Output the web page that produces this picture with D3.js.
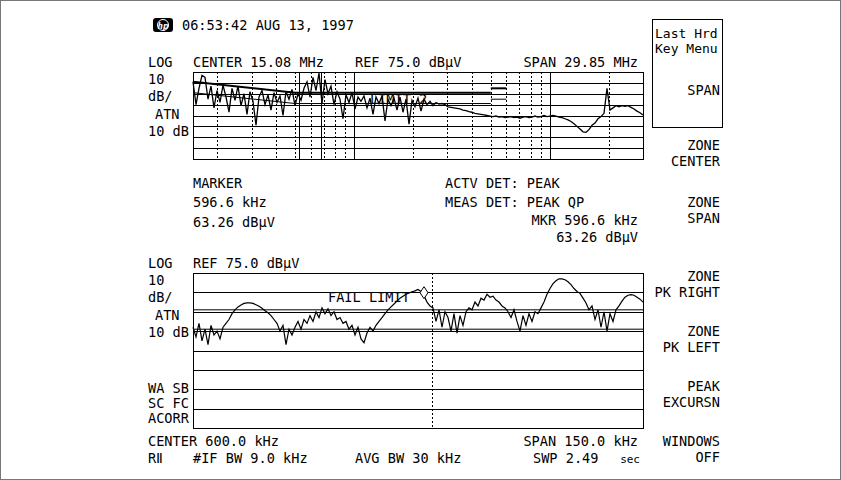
<!DOCTYPE html>
<html>
<head>
<meta charset="utf-8">
<script src="https://cdn.jsdelivr.net/npm/d3@7"></script>
<style>
  html, body { margin: 0; padding: 0; background: #fff; }
  svg text { font-family: "DejaVu Sans Mono", "Liberation Mono", monospace; font-size: 13.6px; fill: #000; }
</style>
</head>
<body>
<svg id="chart" width="841" height="480"></svg>
<script>
// ---- screen data ----
var header = '06:53:42 AUG 13, 1997';

// upper trace: 151 log-spaced sweep points, 150 kHz .. 30 MHz, dBuV
var topStartHz = 150e3;
var topStopHz = 30e6;
var topTrace = [
  66, 45, 60, 72, 70, 50, 62, 42,
  58, 47, 63, 52, 38, 60, 49, 62, 44, 55, 36, 57, 48, 26, 52, 58, 45, 54, 40, 56, 47, 53, 35, 57, 50, 59, 44, 55, 49,
  60, 66, 52, 70, 58, 74, 46, 68, 55, 62,
  45, 57, 50, 32, 54, 47, 56, 41, 52, 48,
  53, 42, 51, 36, 52, 46, 53, 30, 50, 44, 51, 40, 52, 38, 50, 27, 49, 43, 51, 39, 50, 45, 48,
  44, 47, 45.5, 46, 45,
  43, 42.5, 42, 41.5, 41, 40, 39.5, 38.5, 38, 37, 36.5, 36, 35.5, 35, 34.5, 34, 34.5, 33.5, 34, 33,
  33.5, 34, 33, 33.5, 32.5, 33.5, 34, 33, 33.5, 34.5, 33.5, 34, 35, 34, 34.5, 35, 34.5, 33.5, 33, 32,
  31, 29.5, 27.5, 25, 22.5, 20, 19.5, 22, 26, 28, 32, 34, 37, 60, 40, 42, 44, 43, 44, 43.5,
  44, 42.5, 41, 39, 37.5, 35.5
];

// lower trace: zone 525 .. 675 kHz, 1 kHz steps, dBuV
var botStartKHz = 525;
var botTrace = [
  47, 42, 49, 40, 46, 38, 48, 43, 45, 41, 47,
  49, 51, 54, 56, 57.5, 58.5, 59.3, 59.6, 59.6, 59.3, 58.6, 57.8, 56.8, 55.5, 54.5, 53, 51,
  49, 45, 48, 38, 46, 43,
  47, 50, 46, 51, 49, 53, 50, 55, 52, 57, 54, 56.5, 53, 55, 51, 52, 49,
  50, 46, 48, 43, 47, 41, 39, 44, 47, 45,
  48, 50, 52, 54, 56, 57.5, 59, 60.5, 62, 63, 64, 64.7, 65.3,
  65.8, 66.5, 65.5, 63.3,
  60, 58, 57, 50, 56, 47, 55, 52, 45, 54, 44, 53, 48,
  55, 57, 56, 60, 58, 62, 61, 64, 62.5, 63, 61, 60, 58, 57,
  55, 52, 56, 50, 45, 53, 48, 54, 50, 55, 54,
  57, 60, 64, 67, 69.5, 71, 72, 72, 71.5, 70.5, 69, 67, 65.5,
  64.5, 62, 59.5, 56, 58, 51, 56, 47, 55, 45, 54, 50, 56,
  58, 60.5, 62.5, 63.5, 63.8, 63.5, 62.5, 61.5, 60
];

// graticule frequencies of the log display
var dottedHz = [200e3, 300e3, 400e3, 500e3, 600e3, 700e3, 800e3, 900e3,
  2e6, 3e6, 4e6, 5e6, 6e6, 7e6, 8e6, 9e6, 20e6];
var solidHz = [1e6, 10e6];
var zoneHz = [525e3, 675e3];

// limits, [freq Hz, dBuV] breakpoints
var qpLimit = [[150e3, 66], [500e3, 56], [5e6, 56]];
var qpLimitHi = [[5e6, 60], [6e6, 60]];
var avgLimit = [[150e3, 56], [500e3, 46], [5e6, 46]];
var avgLimitHi = [[5e6, 50], [6e6, 50]];
var zoneLimits = [56, 46];

var refLevel = 75;
var dbPerDiv = 10;
var divisions = 8;
var displayLineKHz = 604.7;
var markerKHz = 602;

var softKeys = [
  ['SPAN'], ['ZONE', 'CENTER'], ['ZONE', 'SPAN'], ['ZONE', 'PK RIGHT'],
  ['ZONE', 'PK LEFT'], ['PEAK', 'EXCURSN'], ['WINDOWS', 'OFF']
];
var softKeyY = [90, 145, 202, 276, 331, 386, 441];

// ---- layout ----
var plotL = 193, plotR = 643;
var top1 = 72, bot1 = 159;
var top2 = 273, bot2 = 428;

var svg = d3.select('#chart');

var topX = d3.scaleLog().domain([topStartHz, topStopHz]).range([plotL, plotR]);
var topY = d3.scaleLinear().domain([refLevel - divisions * dbPerDiv, refLevel]).range([bot1, top1]);
var botX = d3.scaleLinear().domain([botStartKHz, botStartKHz + botTrace.length - 1]).range([plotL, plotR]);
var botY = d3.scaleLinear().domain([refLevel - divisions * dbPerDiv, refLevel]).range([bot2, top2]);

/**
 * Plain text helper
 */
function label(x, y, s, anchor) {
  return svg.append('text').attr('x', x).attr('y', y)
      .attr('text-anchor', anchor || 'start').text(s);
}

/**
 * Horizontal graticule for one display
 */
function graticule(yScale, x0, x1) {
  var g = svg.append('g').attr('shape-rendering', 'crispEdges');
  g.selectAll('line').data(d3.range(1, divisions)).enter().append('line')
      .attr('x1', x0).attr('x2', x1)
      .attr('y1', function(d) { return Math.round(yScale(refLevel - d * dbPerDiv)) + 0.5; })
      .attr('y2', function(d) { return Math.round(yScale(refLevel - d * dbPerDiv)) + 0.5; })
      .attr('stroke', '#000').attr('stroke-width', 1);
  return g;
}

// outer frame
svg.append('rect').attr('x', 0.5).attr('y', 0.5).attr('width', 840).attr('height', 479)
    .attr('fill', 'none').attr('stroke', '#777');

// header with hp badge
svg.append('rect').attr('x', 153).attr('y', 18).attr('width', 20).attr('height', 14)
    .attr('rx', 3).attr('fill', '#000');
svg.append('circle').attr('cx', 163).attr('cy', 25).attr('r', 5.5).attr('fill', 'none')
    .attr('stroke', '#fff').attr('stroke-width', 1);
svg.append('text').attr('x', 163).attr('y', 28.5).attr('text-anchor', 'middle')
    .style('font-size', '9px').style('font-style', 'italic').style('font-weight', 'bold')
    .style('fill', '#fff').text('hp');
label(182, 30, header);

// ---- upper display ----
label(148, 67, 'LOG');
label(193, 67, 'CENTER 15.08 MHz');
label(355, 67, 'REF 75.0 dB\u00b5V');
label(638, 67, 'SPAN 29.85 MHz', 'end');
label(148, 84, '10');
label(148, 101, 'dB/');
label(155, 119, 'ATN');
label(148, 136, '10 dB');

graticule(topY, plotL, plotR);

var vg = svg.append('g').attr('shape-rendering', 'crispEdges');
vg.selectAll('line.dot').data(dottedHz).enter().append('line')
    .attr('class', 'dot')
    .attr('x1', function(d) { return Math.round(topX(d)) + 0.5; })
    .attr('x2', function(d) { return Math.round(topX(d)) + 0.5; })
    .attr('y1', top1).attr('y2', bot1)
    .attr('stroke', '#000').attr('stroke-dasharray', '2,2');
vg.selectAll('line.sol').data(solidHz.concat(zoneHz)).enter().append('line')
    .attr('class', 'sol')
    .attr('x1', function(d) { return Math.round(topX(d)) + 0.5; })
    .attr('x2', function(d) { return Math.round(topX(d)) + 0.5; })
    .attr('y1', top1).attr('y2', bot1)
    .attr('stroke', '#000');

var limitLine = d3.line()
    .x(function(d) { return topX(d[0]); })
    .y(function(d) { return topY(d[1]); });
[[qpLimit, 2], [qpLimitHi, 2], [avgLimit, 1], [avgLimitHi, 1]].forEach(function(l) {
  svg.append('path').attr('d', limitLine(l[0])).attr('fill', 'none')
      .attr('stroke', '#000').attr('stroke-width', l[1]);
});
label(370, 104, 'LIMIT 2');

var topLine = d3.line()
    .x(function(d, i) { return topX(topStartHz * Math.pow(topStopHz / topStartHz, i / (topTrace.length - 1))); })
    .y(function(d) { return topY(d); });
svg.append('path').attr('d', topLine(topTrace)).attr('fill', 'none')
    .attr('stroke', '#000').attr('stroke-width', 1.3);

svg.append('rect').attr('x', plotL + 0.5).attr('y', top1 + 0.5)
    .attr('width', plotR - plotL).attr('height', bot1 - top1)
    .attr('fill', 'none').attr('stroke', '#000').attr('shape-rendering', 'crispEdges');

// ---- marker / detector readout ----
label(193, 188, 'MARKER');
label(193, 207, '596.6 kHz');
label(193, 227, '63.26 dB\u00b5V');
label(445, 188, 'ACTV DET: PEAK');
label(445, 207, 'MEAS DET: PEAK QP');
label(638, 225, 'MKR 596.6 kHz', 'end');
label(638, 242, '63.26 dB\u00b5V', 'end');

// ---- lower (zone) display ----
label(148, 268, 'LOG');
label(193, 268, 'REF 75.0 dB\u00b5V');
label(148, 285, '10');
label(148, 302, 'dB/');
label(155, 320, 'ATN');
label(148, 337, '10 dB');
label(148, 393, 'WA SB');
label(148, 408, 'SC FC');
label(148, 423, 'ACORR');

graticule(botY, plotL, plotR);

svg.append('g').selectAll('line').data(zoneLimits).enter().append('line')
    .attr('x1', plotL).attr('x2', plotR)
    .attr('y1', function(d) { return botY(d); })
    .attr('y2', function(d) { return botY(d); })
    .attr('stroke', '#000');

svg.append('line')
    .attr('x1', Math.round(botX(displayLineKHz)) + 0.5)
    .attr('x2', Math.round(botX(displayLineKHz)) + 0.5)
    .attr('y1', top2).attr('y2', bot2)
    .attr('stroke', '#000').attr('stroke-dasharray', '2,2')
    .attr('shape-rendering', 'crispEdges');

label(328, 302, 'FAIL LIMIT');

var botLine = d3.line()
    .x(function(d, i) { return botX(botStartKHz + i); })
    .y(function(d) { return botY(d); });
svg.append('path').attr('d', botLine(botTrace)).attr('fill', 'none')
    .attr('stroke', '#000').attr('stroke-width', 1.2);

var mIdx = Math.round(markerKHz - botStartKHz);
var mx = botX(markerKHz), my = botY(botTrace[mIdx]) - 3;
svg.append('path')
    .attr('d', 'M' + mx + ',' + (my - 6) + 'L' + (mx + 4) + ',' + my + 'L' + mx + ',' + (my + 6) +
        'L' + (mx - 4) + ',' + my + 'Z')
    .attr('fill', '#fff').attr('stroke', '#000');

svg.append('rect').attr('x', plotL + 0.5).attr('y', top2 + 0.5)
    .attr('width', plotR - plotL).attr('height', bot2 - top2)
    .attr('fill', 'none').attr('stroke', '#000').attr('shape-rendering', 'crispEdges');

label(148, 446, 'CENTER 600.0 kHz');
label(148, 463, 'R\u2161');
label(193, 463, '#IF BW 9.0 kHz');
label(355, 463, 'AVG BW 30 kHz');
label(638, 446, 'SPAN 150.0 kHz', 'end');
label(533, 463, 'SWP 2.49');
svg.append('text').attr('x', 640).attr('y', 463).attr('text-anchor', 'end')
    .style('font-size', '11px').text('sec');

// ---- softkey column ----
svg.append('rect').attr('x', 652.5).attr('y', 19.5).attr('width', 70).attr('height', 108)
    .attr('fill', 'none').attr('stroke', '#000').attr('shape-rendering', 'crispEdges');
label(655, 38, 'Last Hrd').style('font-size', '13px');
label(655, 53, 'Key Menu').style('font-size', '13px');
softKeys.forEach(function(k, i) {
  k.forEach(function(s, j) {
    label(720, softKeyY[i] + 5 + j * 16, s, 'end');
  });
});
</script>
</body>
</html>
